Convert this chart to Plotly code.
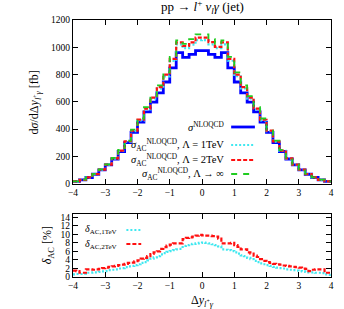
import numpy as np
import plotly.graph_objects as go

# ---------------- data ----------------
# top panel: 40 bins of width 0.2 from -4 to 4
top_edges = np.round(np.linspace(-4, 4, 41), 2)
sigma_nlo = [15, 27, 44, 68, 100, 136, 180, 235, 300, 375, 450, 525, 597, 665, 745, 848, 960, 925, 947, 975,
             975, 947, 925, 960, 848, 745, 665, 597, 525, 450, 375, 300, 235, 180, 136, 100, 68, 44, 27, 15]
sigma_ac_1tev = [15, 27, 44, 69, 101, 138, 183, 240, 307, 385, 464, 543, 622, 697, 786, 899, 1021, 993, 1020, 1052,
                 1053, 1021, 993, 1021, 901, 787, 698, 623, 544, 464, 385, 307, 240, 183, 138, 101, 69, 44, 27, 15]
sigma_ac_2tev = [15, 27, 45, 69, 102, 139, 185, 242, 310, 388, 469, 550, 630, 707, 799, 914, 1036, 1009, 1036, 1071,
                 1070, 1037, 1003, 1036, 914, 799, 708, 631, 550, 468, 388, 309, 242, 185, 139, 102, 69, 45, 27, 15]
sigma_ac_inf = [16, 28, 45, 70, 104, 141, 188, 246, 315, 395, 477, 560, 642, 720, 815, 930, 1050, 1025, 1060, 1095,
                1095, 1060, 1025, 1050, 930, 815, 720, 642, 560, 477, 395, 315, 246, 188, 141, 104, 70, 45, 28, 16]

# bottom panel: 80 bins of width 0.1 from -4 to 4
bot_edges = np.round(np.linspace(-4, 4, 81), 2)
delta_2tev = [1.5, 1.4, 1.0, 1.0, 1.8, 1.8, 1.7, 1.8, 1.9, 2.1, 2.2, 2.4, 2.5, 2.6, 2.8, 2.9, 3.1, 3.3, 3.4, 3.7,
              3.9, 4.3, 4.5, 4.9, 5.4, 5.8, 6.0, 6.6, 7.0, 7.4, 7.6, 7.9, 7.9, 7.9, 8.9, 9.2, 9.3, 9.5, 9.7, 9.9,
              9.8, 9.7, 9.7, 9.6, 9.5, 9.0, 7.9, 7.9, 7.9, 8.0, 7.5, 7.1, 6.5, 6.5, 5.8, 5.5, 5.0, 4.7, 4.2, 3.8,
              3.5, 3.3, 3.1, 3.0, 2.9, 2.7, 2.6, 2.5, 2.4, 2.3, 2.2, 2.0, 1.9, 1.4, 1.7, 1.8, 1.8, 1.8, 1.0, 1.0]
delta_1tev = [0.6, 0.7, 0.7, 0.8, 1.0, 1.0, 1.1, 1.1, 1.2, 1.3, 1.4, 1.6, 1.7, 1.8, 2.0, 2.1, 2.3, 2.5, 2.6, 2.8,
              3.0, 3.3, 3.5, 3.9, 4.3, 4.6, 4.9, 5.3, 5.6, 5.9, 6.1, 6.3, 6.5, 6.6, 7.3, 7.5, 7.7, 7.8, 7.9, 8.0,
              8.1, 8.0, 7.9, 7.7, 7.5, 7.2, 6.5, 6.4, 6.3, 6.1, 5.8, 5.5, 5.1, 4.9, 4.5, 4.2, 3.8, 3.5, 3.2, 3.0,
              2.8, 2.6, 2.4, 2.2, 2.1, 2.0, 1.8, 1.7, 1.6, 1.5, 1.4, 1.3, 1.2, 1.1, 1.1, 1.0, 1.0, 0.9, 0.6, 0.5]

x_ticks = [-4, -3, -2, -1, 0, 1, 2, 3, 4]
top_yticks = [0, 200, 400, 600, 800, 1000, 1200]
bot_yticks = [0, 2, 4, 6, 8, 10, 12, 14]

# ---------------- styles ----------------
FONT = "Liberation Serif"
BLUE = "#0000ff"
CYAN = "#40e8f0"
RED = "#ff1010"
GREEN = "#20cc20"


def steps(edges, vals):
    return list(edges), list(vals) + [vals[-1]]


fig = go.Figure()

top_series = [
    (sigma_nlo, BLUE, "solid", 2.8),
    (sigma_ac_1tev, CYAN, "2px,2px", 2.2),
    (sigma_ac_2tev, RED, "4px,2px", 2.2),
    (sigma_ac_inf, GREEN, "6px,6px", 1.8),
]
for vals, col, dash, w in top_series:
    xs, ys = steps(top_edges, vals)
    fig.add_trace(go.Scatter(x=xs, y=ys, mode="lines", line=dict(color=col, dash=dash, width=w, shape="hv"),
                             xaxis="x", yaxis="y", showlegend=False, hoverinfo="skip"))

bot_series = [
    (delta_1tev, CYAN, "2px,2px", 2.2),
    (delta_2tev, RED, "4px,2px", 2.2),
]
for vals, col, dash, w in bot_series:
    xs, ys = steps(bot_edges, vals)
    fig.add_trace(go.Scatter(x=xs, y=ys, mode="lines", line=dict(color=col, dash=dash, width=w, shape="hv"),
                             xaxis="x2", yaxis="y2", showlegend=False, hoverinfo="skip"))

axis_common = dict(showline=True, linecolor="black", linewidth=1, mirror="ticks", ticks="inside",
                   ticklen=5, tickcolor="black", showgrid=False, zeroline=False,
                   tickfont=dict(family=FONT, size=9.5, color="black"))

fig.update_layout(
    width=344, height=309,
    margin=dict(l=73, r=10, t=20, b=32),
    paper_bgcolor="white", plot_bgcolor="white",
    xaxis=dict(domain=[0, 1], range=[-4, 4], tickvals=x_ticks, anchor="y", **axis_common),
    yaxis=dict(domain=[0.3638, 1], range=[0, 1200], tickvals=top_yticks, anchor="x", **axis_common),
    xaxis2=dict(domain=[0, 1], range=[-4, 4], tickvals=x_ticks, anchor="y2", **axis_common),
    yaxis2=dict(domain=[0, 0.2451], range=[0, 14.8], tickvals=bot_yticks, anchor="x2", **axis_common),
    showlegend=False,
)

ann_font = dict(family=FONT, size=10.5, color="black")
annotations = [
    dict(text="pp → <i>l</i><sup>+</sup> <i>ν<sub>l</sub>γ</i> (jet)", x=0.502, y=1.05, xref="paper", yref="paper",
         showarrow=False, font=dict(family=FONT, size=13, color="black"), xanchor="center", yanchor="middle"),
    dict(text="d<i>σ</i>/dΔ<i>y</i><sub><i>l</i><sup>+</sup><i>γ</i></sub> [fb]", x=-0.1456, y=0.681,
         xref="paper", yref="paper", showarrow=False, textangle=-90,
         font=dict(family=FONT, size=12, color="black"), xanchor="center", yanchor="middle"),
    dict(text="<i>δ</i><sub>AC</sub> [%]", x=-0.0958, y=0.1245, xref="paper", yref="paper", showarrow=False,
         textangle=-90, font=dict(family=FONT, size=12, color="black"), xanchor="center", yanchor="middle"),
    dict(text="Δ<i>y</i><sub><i>l</i><sup>+</sup><i>γ</i></sub>", x=0.502, y=-0.0934, xref="paper", yref="paper",
         showarrow=False, font=dict(family=FONT, size=12, color="black"), xanchor="center", yanchor="middle"),
]

top_legend = [
    ("<i>σ</i><sup>NLOQCD</sup>", 0.5837, BLUE, "solid", 2.8),
    ("<i>σ</i><sub>AC</sub><sup>NLOQCD</sup>, Λ = 1TeV", 0.5136, CYAN, "2px,2px", 2.2),
    ("<i>σ</i><sub>AC</sub><sup>NLOQCD</sup>, Λ = 2TeV", 0.4553, RED, "4px,2px", 2.2),
    ("<i>σ</i><sub>AC</sub><sup>NLOQCD</sup>, Λ → ∞", 0.4008, GREEN, "6px,6px", 1.8),
]
shapes = []
for txt, yy, col, dash, w in top_legend:
    annotations.append(dict(text=txt, x=0.594, y=yy, xref="paper", yref="paper", showarrow=False,
                            font=ann_font, xanchor="right", yanchor="middle"))
    shapes.append(dict(type="line", xref="paper", yref="paper", x0=0.613, x1=0.705, y0=yy, y1=yy,
                       line=dict(color=col, dash=dash, width=w)))

bot_legend = [
    ("<i>δ</i><sub>AC,1TeV</sub>", 0.1829, CYAN, "2px,2px", 2.2),
    ("<i>δ</i><sub>AC,2TeV</sub>", 0.1284, RED, "4px,2px", 2.2),
]
for txt, yy, col, dash, w in bot_legend:
    annotations.append(dict(text=txt, x=0.0383, y=yy, xref="paper", yref="paper", showarrow=False,
                            font=dict(family=FONT, size=10, color="black"), xanchor="left", yanchor="middle"))
    shapes.append(dict(type="line", xref="paper", yref="paper", x0=0.2069, x1=0.2644, y0=yy, y1=yy,
                       line=dict(color=col, dash=dash, width=w)))

fig.update_layout(annotations=annotations, shapes=shapes)
fig.write_html("out.html", config={"displayModeBar": False},
               post_script="document.body.style.margin='0';document.body.style.padding='0';document.body.style.overflow='hidden';")
